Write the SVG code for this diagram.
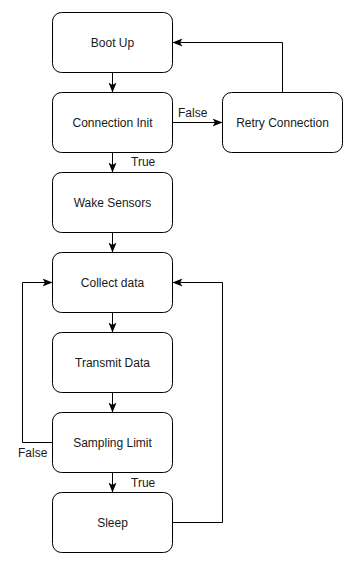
<svg xmlns="http://www.w3.org/2000/svg" width="351" height="570" viewBox="0 0 351 570">
  <style>
    .node rect { fill: #ffffff; stroke: #000000; stroke-width: 1; }
    .node text, .lbl { font-family: "Liberation Sans", Arial, sans-serif; font-size: 12px; fill: #1a1a1a; }
    .node text { text-anchor: middle; dominant-baseline: central; }
    .edge { fill: none; stroke: #000000; stroke-width: 1; }
  </style>
  <defs>
    <marker id="arrow" viewBox="0 0 10 10" refX="10" refY="5" markerWidth="10" markerHeight="10" markerUnits="userSpaceOnUse" orient="auto">
      <path d="M0,1 L10,5 L0,9 L2.5,5 Z" fill="#000000"/>
    </marker>
  </defs>
  <rect width="351" height="570" fill="#ffffff"/>

  <g id="connectors">
    <path class="edge" d="M112.5,72.5 V92.5" marker-end="url(#arrow)"/>
    <path class="edge" d="M172.5,122.5 H222.5" marker-end="url(#arrow)"/>
    <path class="edge" d="M282.5,92.5 V42.5 H172.5" marker-end="url(#arrow)"/>
    <path class="edge" d="M112.5,152.5 V172.5" marker-end="url(#arrow)"/>
    <path class="edge" d="M112.5,232.5 V252.5" marker-end="url(#arrow)"/>
    <path class="edge" d="M112.5,312.5 V332.5" marker-end="url(#arrow)"/>
    <path class="edge" d="M112.5,392.5 V412.5" marker-end="url(#arrow)"/>
    <path class="edge" d="M112.5,472.5 V492.5" marker-end="url(#arrow)"/>
    <path class="edge" d="M52.5,442.5 H22.5 V282.5 H52.5" marker-end="url(#arrow)"/>
    <path class="edge" d="M172.5,522.5 H222.5 V282.5 H172.5" marker-end="url(#arrow)"/>
    <text class="lbl" x="178" y="117">False</text>
    <text class="lbl" x="131" y="166">True</text>
    <text class="lbl" x="18" y="457">False</text>
    <text class="lbl" x="131" y="487">True</text>
  </g>

  <g id="boot-up" class="node">
    <rect x="52.5" y="12.5" width="120" height="60" rx="9" ry="9"/>
    <text x="112.5" y="42.5">Boot Up</text>
  </g>
  <g id="connection-init" class="node">
    <rect x="52.5" y="92.5" width="120" height="60" rx="9" ry="9"/>
    <text x="112.5" y="122.5">Connection Init</text>
  </g>
  <g id="retry-connection" class="node">
    <rect x="222.5" y="92.5" width="120" height="60" rx="9" ry="9"/>
    <text x="282.5" y="122.5">Retry Connection</text>
  </g>
  <g id="wake-sensors" class="node">
    <rect x="52.5" y="172.5" width="120" height="60" rx="9" ry="9"/>
    <text x="112.5" y="202.5">Wake Sensors</text>
  </g>
  <g id="collect-data" class="node">
    <rect x="52.5" y="252.5" width="120" height="60" rx="9" ry="9"/>
    <text x="112.5" y="282.5">Collect data</text>
  </g>
  <g id="transmit-data" class="node">
    <rect x="52.5" y="332.5" width="120" height="60" rx="9" ry="9"/>
    <text x="112.5" y="362.5">Transmit Data</text>
  </g>
  <g id="sampling-limit" class="node">
    <rect x="52.5" y="412.5" width="120" height="60" rx="9" ry="9"/>
    <text x="112.5" y="442.5">Sampling Limit</text>
  </g>
  <g id="sleep" class="node">
    <rect x="52.5" y="492.5" width="120" height="60" rx="9" ry="9"/>
    <text x="112.5" y="522.5">Sleep</text>
  </g>
</svg>
